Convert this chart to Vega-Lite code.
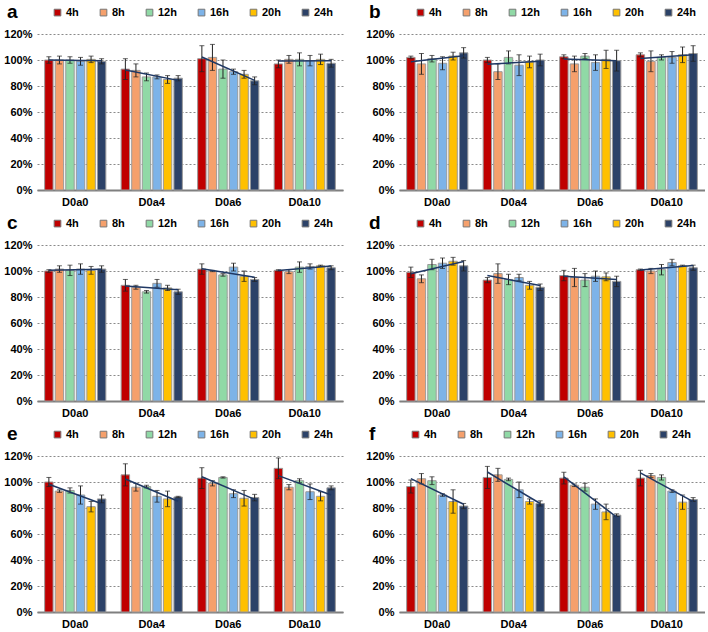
{
"$schema": "https://vega.github.io/schema/vega-lite/v6.json",
"padding": {"left": 3, "top": 7, "right": 0, "bottom": 0},
"data": {"values": [
{"p":"a","g":"D0a0","h":4,"v":100,"lo":97.5,"hi":102.5},{"p":"a","g":"D0a0","h":8,"v":100,"lo":97,"hi":103},{"p":"a","g":"D0a0","h":12,"v":100,"lo":97.5,"hi":102.5},{"p":"a","g":"D0a0","h":16,"v":99,"lo":96,"hi":102},{"p":"a","g":"D0a0","h":20,"v":100.5,"lo":98,"hi":103},{"p":"a","g":"D0a0","h":24,"v":99,"lo":97,"hi":101},
{"p":"a","g":"D0a4","h":4,"v":93,"lo":85,"hi":101},{"p":"a","g":"D0a4","h":8,"v":92,"lo":87,"hi":97},{"p":"a","g":"D0a4","h":12,"v":87,"lo":84,"hi":90},{"p":"a","g":"D0a4","h":16,"v":87,"lo":85.5,"hi":88.5},{"p":"a","g":"D0a4","h":20,"v":85,"lo":82,"hi":88},{"p":"a","g":"D0a4","h":24,"v":86,"lo":84,"hi":88},
{"p":"a","g":"D0a6","h":4,"v":101,"lo":91,"hi":111},{"p":"a","g":"D0a6","h":8,"v":102,"lo":92,"hi":112},{"p":"a","g":"D0a6","h":12,"v":93,"lo":86,"hi":100},{"p":"a","g":"D0a6","h":16,"v":91,"lo":89,"hi":93},{"p":"a","g":"D0a6","h":20,"v":89,"lo":86,"hi":92},{"p":"a","g":"D0a6","h":24,"v":84,"lo":81,"hi":87},
{"p":"a","g":"D0a10","h":4,"v":97,"lo":94,"hi":100},{"p":"a","g":"D0a10","h":8,"v":100.5,"lo":97.5,"hi":103.5},{"p":"a","g":"D0a10","h":12,"v":100.5,"lo":95.5,"hi":105.5},{"p":"a","g":"D0a10","h":16,"v":99.5,"lo":95.5,"hi":103.5},{"p":"a","g":"D0a10","h":20,"v":100.5,"lo":96.5,"hi":104.5},{"p":"a","g":"D0a10","h":24,"v":97.5,"lo":94.5,"hi":100.5},
{"p":"b","g":"D0a0","h":4,"v":102,"lo":101,"hi":103},{"p":"b","g":"D0a0","h":8,"v":97,"lo":89,"hi":105},{"p":"b","g":"D0a0","h":12,"v":101,"lo":98.5,"hi":103.5},{"p":"b","g":"D0a0","h":16,"v":97.5,"lo":92.5,"hi":102.5},{"p":"b","g":"D0a0","h":20,"v":103,"lo":100,"hi":106},{"p":"b","g":"D0a0","h":24,"v":105.5,"lo":101.5,"hi":109.5},
{"p":"b","g":"D0a4","h":4,"v":100,"lo":98,"hi":102},{"p":"b","g":"D0a4","h":8,"v":91,"lo":85,"hi":97},{"p":"b","g":"D0a4","h":12,"v":102,"lo":97,"hi":107},{"p":"b","g":"D0a4","h":16,"v":96,"lo":88,"hi":104},{"p":"b","g":"D0a4","h":20,"v":98.5,"lo":94,"hi":103},{"p":"b","g":"D0a4","h":24,"v":100,"lo":95.5,"hi":104.5},
{"p":"b","g":"D0a6","h":4,"v":102.5,"lo":101,"hi":104},{"p":"b","g":"D0a6","h":8,"v":97,"lo":91,"hi":103},{"p":"b","g":"D0a6","h":12,"v":103,"lo":101,"hi":105},{"p":"b","g":"D0a6","h":16,"v":98,"lo":92,"hi":104},{"p":"b","g":"D0a6","h":20,"v":100.5,"lo":93.5,"hi":107.5},{"p":"b","g":"D0a6","h":24,"v":99.5,"lo":91.5,"hi":107.5},
{"p":"b","g":"D0a10","h":4,"v":104,"lo":102.5,"hi":105.5},{"p":"b","g":"D0a10","h":8,"v":99,"lo":91,"hi":107},{"p":"b","g":"D0a10","h":12,"v":102,"lo":100,"hi":104},{"p":"b","g":"D0a10","h":16,"v":102,"lo":97.5,"hi":106.5},{"p":"b","g":"D0a10","h":20,"v":104,"lo":98,"hi":110},{"p":"b","g":"D0a10","h":24,"v":105,"lo":99,"hi":111},
{"p":"c","g":"D0a0","h":4,"v":100,"lo":99,"hi":101},{"p":"c","g":"D0a0","h":8,"v":101.5,"lo":99,"hi":104},{"p":"c","g":"D0a0","h":12,"v":100.5,"lo":96.5,"hi":104.5},{"p":"c","g":"D0a0","h":16,"v":101.5,"lo":97.5,"hi":105.5},{"p":"c","g":"D0a0","h":20,"v":100.5,"lo":97.5,"hi":103.5},{"p":"c","g":"D0a0","h":24,"v":101.5,"lo":99,"hi":104},
{"p":"c","g":"D0a4","h":4,"v":89,"lo":84.5,"hi":93.5},{"p":"c","g":"D0a4","h":8,"v":87.5,"lo":86,"hi":89},{"p":"c","g":"D0a4","h":12,"v":84,"lo":83,"hi":85},{"p":"c","g":"D0a4","h":16,"v":90.5,"lo":87.5,"hi":93.5},{"p":"c","g":"D0a4","h":20,"v":87,"lo":85,"hi":89},{"p":"c","g":"D0a4","h":24,"v":84,"lo":82,"hi":86},
{"p":"c","g":"D0a6","h":4,"v":101.5,"lo":97.5,"hi":105.5},{"p":"c","g":"D0a6","h":8,"v":100,"lo":99.5,"hi":100.5},{"p":"c","g":"D0a6","h":12,"v":97,"lo":96,"hi":98},{"p":"c","g":"D0a6","h":16,"v":103,"lo":100,"hi":106},{"p":"c","g":"D0a6","h":20,"v":96,"lo":92,"hi":100},{"p":"c","g":"D0a6","h":24,"v":93.5,"lo":92,"hi":95},
{"p":"c","g":"D0a10","h":4,"v":100.5,"lo":100,"hi":101},{"p":"c","g":"D0a10","h":8,"v":99.5,"lo":98,"hi":101},{"p":"c","g":"D0a10","h":12,"v":103,"lo":99,"hi":107},{"p":"c","g":"D0a10","h":16,"v":103.5,"lo":101.5,"hi":105.5},{"p":"c","g":"D0a10","h":20,"v":104,"lo":103.5,"hi":104.5},{"p":"c","g":"D0a10","h":24,"v":102.5,"lo":101,"hi":104},
{"p":"d","g":"D0a0","h":4,"v":99,"lo":95,"hi":103},{"p":"d","g":"D0a0","h":8,"v":94,"lo":91,"hi":97},{"p":"d","g":"D0a0","h":12,"v":105,"lo":101,"hi":109},{"p":"d","g":"D0a0","h":16,"v":106,"lo":102,"hi":110},{"p":"d","g":"D0a0","h":20,"v":107.5,"lo":104.5,"hi":110.5},{"p":"d","g":"D0a0","h":24,"v":104,"lo":100,"hi":108},
{"p":"d","g":"D0a4","h":4,"v":93,"lo":91,"hi":95},{"p":"d","g":"D0a4","h":8,"v":98,"lo":90.5,"hi":105.5},{"p":"d","g":"D0a4","h":12,"v":93.5,"lo":89.5,"hi":97.5},{"p":"d","g":"D0a4","h":16,"v":95,"lo":92.5,"hi":97.5},{"p":"d","g":"D0a4","h":20,"v":89,"lo":86,"hi":92},{"p":"d","g":"D0a4","h":24,"v":87.5,"lo":85,"hi":90},
{"p":"d","g":"D0a6","h":4,"v":96.5,"lo":92.5,"hi":100.5},{"p":"d","g":"D0a6","h":8,"v":95,"lo":88,"hi":102},{"p":"d","g":"D0a6","h":12,"v":93,"lo":88,"hi":98},{"p":"d","g":"D0a6","h":16,"v":96,"lo":92,"hi":100},{"p":"d","g":"D0a6","h":20,"v":95.5,"lo":92.5,"hi":98.5},{"p":"d","g":"D0a6","h":24,"v":92,"lo":88,"hi":96},
{"p":"d","g":"D0a10","h":4,"v":101,"lo":100.5,"hi":101.5},{"p":"d","g":"D0a10","h":8,"v":100,"lo":98,"hi":102},{"p":"d","g":"D0a10","h":12,"v":101,"lo":97,"hi":105},{"p":"d","g":"D0a10","h":16,"v":106.5,"lo":104,"hi":109},{"p":"d","g":"D0a10","h":20,"v":104,"lo":103.5,"hi":104.5},{"p":"d","g":"D0a10","h":24,"v":102.5,"lo":100.5,"hi":104.5},
{"p":"e","g":"D0a0","h":4,"v":100,"lo":96.5,"hi":103.5},{"p":"e","g":"D0a0","h":8,"v":93,"lo":92,"hi":94},{"p":"e","g":"D0a0","h":12,"v":93.5,"lo":91.5,"hi":95.5},{"p":"e","g":"D0a0","h":16,"v":90,"lo":83,"hi":97},{"p":"e","g":"D0a0","h":20,"v":81,"lo":77,"hi":85},{"p":"e","g":"D0a0","h":24,"v":87,"lo":84,"hi":90},
{"p":"e","g":"D0a4","h":4,"v":105.5,"lo":97,"hi":114},{"p":"e","g":"D0a4","h":8,"v":96,"lo":93,"hi":99},{"p":"e","g":"D0a4","h":12,"v":96.5,"lo":95.5,"hi":97.5},{"p":"e","g":"D0a4","h":16,"v":89,"lo":84.5,"hi":93.5},{"p":"e","g":"D0a4","h":20,"v":87,"lo":81,"hi":93},{"p":"e","g":"D0a4","h":24,"v":88.5,"lo":88,"hi":89},
{"p":"e","g":"D0a6","h":4,"v":103,"lo":95,"hi":111},{"p":"e","g":"D0a6","h":8,"v":99,"lo":97,"hi":101},{"p":"e","g":"D0a6","h":12,"v":103.5,"lo":103,"hi":104},{"p":"e","g":"D0a6","h":16,"v":91,"lo":88,"hi":94},{"p":"e","g":"D0a6","h":20,"v":87.5,"lo":81.5,"hi":93.5},{"p":"e","g":"D0a6","h":24,"v":88,"lo":85.5,"hi":90.5},
{"p":"e","g":"D0a10","h":4,"v":110.5,"lo":102.5,"hi":118.5},{"p":"e","g":"D0a10","h":8,"v":96,"lo":94,"hi":98},{"p":"e","g":"D0a10","h":12,"v":101,"lo":99.5,"hi":102.5},{"p":"e","g":"D0a10","h":16,"v":92.5,"lo":86.5,"hi":98.5},{"p":"e","g":"D0a10","h":20,"v":89,"lo":85.5,"hi":92.5},{"p":"e","g":"D0a10","h":24,"v":95.5,"lo":94,"hi":97},
{"p":"f","g":"D0a0","h":4,"v":96.5,"lo":91.5,"hi":101.5},{"p":"f","g":"D0a0","h":8,"v":102.5,"lo":98.5,"hi":106.5},{"p":"f","g":"D0a0","h":12,"v":101,"lo":98,"hi":104},{"p":"f","g":"D0a0","h":16,"v":90,"lo":89,"hi":91},{"p":"f","g":"D0a0","h":20,"v":85,"lo":76,"hi":94},{"p":"f","g":"D0a0","h":24,"v":81.5,"lo":79.5,"hi":83.5},
{"p":"f","g":"D0a4","h":4,"v":103.5,"lo":95,"hi":112},{"p":"f","g":"D0a4","h":8,"v":105.5,"lo":100.5,"hi":110.5},{"p":"f","g":"D0a4","h":12,"v":102,"lo":101,"hi":103},{"p":"f","g":"D0a4","h":16,"v":94,"lo":88,"hi":100},{"p":"f","g":"D0a4","h":20,"v":85,"lo":83,"hi":87},{"p":"f","g":"D0a4","h":24,"v":83.5,"lo":81.5,"hi":85.5},
{"p":"f","g":"D0a6","h":4,"v":103,"lo":98.5,"hi":107.5},{"p":"f","g":"D0a6","h":8,"v":97.5,"lo":96.5,"hi":98.5},{"p":"f","g":"D0a6","h":12,"v":96,"lo":93,"hi":99},{"p":"f","g":"D0a6","h":16,"v":83,"lo":79,"hi":87},{"p":"f","g":"D0a6","h":20,"v":77,"lo":71,"hi":83},{"p":"f","g":"D0a6","h":24,"v":74.5,"lo":73.5,"hi":75.5},
{"p":"f","g":"D0a10","h":4,"v":103,"lo":97,"hi":109},{"p":"f","g":"D0a10","h":8,"v":105,"lo":103.5,"hi":106.5},{"p":"f","g":"D0a10","h":12,"v":103.5,"lo":101.5,"hi":105.5},{"p":"f","g":"D0a10","h":16,"v":93,"lo":92,"hi":94},{"p":"f","g":"D0a10","h":20,"v":84.5,"lo":79,"hi":90},{"p":"f","g":"D0a10","h":24,"v":86.5,"lo":85,"hi":88}
]},
"spacing": 11,
"resolve": {"scale": {"fill": "independent"}, "legend": {"fill": "independent"}},
"vconcat": [
{"hconcat": [
{"width": 306, "height": 156, "transform": [{"filter": "datum.p == 'a'"}],
 "encoding": {"x": {"field": "g", "type": "nominal", "sort": ["D0a0","D0a4","D0a6","D0a10"], "scale": {"paddingInner": 0.2, "paddingOuter": 0.1}, "title": null},
  "xOffset": {"field": "h", "type": "nominal", "scale": {"domain": [4,8,12,16,20,24], "paddingInner": 0.2, "paddingOuter": 0}}},
 "layer": [
  {"mark": {"type": "bar", "stroke": "#9a9a9a", "strokeWidth": 1}, "encoding": {"y": {"field": "v", "type": "quantitative", "title": null, "scale": {"domain": [0,120]}, "axis": {"values": [0,20,40,60,80,100,120], "labelOverlap": false, "labelExpr": "datum.value + '%'"}}, "fill": {"field": "h", "type": "nominal", "scale": {"domain": [4,8,12,16,20,24], "range": ["#C00000","#F5A06C","#90D9A6","#7DB3E8","#FFC000","#2C4268"]}, "legend": {"orient": "none", "legendX": -30, "legendY": -27, "direction": "horizontal", "title": "a", "labelExpr": "datum.label + 'h'"}}}},
  {"mark": {"type": "rule", "color": "#222", "strokeWidth": 1}, "encoding": {"y": {"field": "lo", "type": "quantitative", "title": null, "axis": {"values": [0,20,40,60,80,100,120], "labelOverlap": false, "labelExpr": "datum.value + '%'"}}, "y2": {"field": "hi"}}},
  {"mark": {"type": "tick", "color": "#222", "size": 5, "thickness": 1}, "encoding": {"y": {"field": "lo", "type": "quantitative", "title": null, "axis": {"values": [0,20,40,60,80,100,120], "labelOverlap": false, "labelExpr": "datum.value + '%'"}}}},
  {"mark": {"type": "tick", "color": "#222", "size": 5, "thickness": 1}, "encoding": {"y": {"field": "hi", "type": "quantitative", "title": null, "axis": {"values": [0,20,40,60,80,100,120], "labelOverlap": false, "labelExpr": "datum.value + '%'"}}}},
  {"transform": [{"regression": "v", "on": "h", "groupby": ["g"]}], "mark": {"type": "line", "color": "#1F3864", "strokeWidth": 1.5}, "encoding": {"y": {"field": "v", "type": "quantitative", "title": null, "axis": {"values": [0,20,40,60,80,100,120], "labelOverlap": false, "labelExpr": "datum.value + '%'"}}, "detail": {"field": "g"}}}
 ]},
{"width": 306, "height": 156, "transform": [{"filter": "datum.p == 'b'"}],
 "encoding": {"x": {"field": "g", "type": "nominal", "sort": ["D0a0","D0a4","D0a6","D0a10"], "scale": {"paddingInner": 0.2, "paddingOuter": 0.1}, "title": null},
  "xOffset": {"field": "h", "type": "nominal", "scale": {"domain": [4,8,12,16,20,24], "paddingInner": 0.2, "paddingOuter": 0}}},
 "layer": [
  {"mark": {"type": "bar", "stroke": "#9a9a9a", "strokeWidth": 1}, "encoding": {"y": {"field": "v", "type": "quantitative", "title": null, "scale": {"domain": [0,120]}, "axis": {"values": [0,20,40,60,80,100,120], "labelOverlap": false, "labelExpr": "datum.value + '%'"}}, "fill": {"field": "h", "type": "nominal", "scale": {"domain": [4,8,12,16,20,24], "range": ["#C00000","#F5A06C","#90D9A6","#7DB3E8","#FFC000","#2C4268"]}, "legend": {"orient": "none", "legendX": -30, "legendY": -27, "direction": "horizontal", "title": "b", "labelExpr": "datum.label + 'h'"}}}},
  {"mark": {"type": "rule", "color": "#222", "strokeWidth": 1}, "encoding": {"y": {"field": "lo", "type": "quantitative", "title": null, "axis": {"values": [0,20,40,60,80,100,120], "labelOverlap": false, "labelExpr": "datum.value + '%'"}}, "y2": {"field": "hi"}}},
  {"mark": {"type": "tick", "color": "#222", "size": 5, "thickness": 1}, "encoding": {"y": {"field": "lo", "type": "quantitative", "title": null, "axis": {"values": [0,20,40,60,80,100,120], "labelOverlap": false, "labelExpr": "datum.value + '%'"}}}},
  {"mark": {"type": "tick", "color": "#222", "size": 5, "thickness": 1}, "encoding": {"y": {"field": "hi", "type": "quantitative", "title": null, "axis": {"values": [0,20,40,60,80,100,120], "labelOverlap": false, "labelExpr": "datum.value + '%'"}}}},
  {"transform": [{"regression": "v", "on": "h", "groupby": ["g"]}], "mark": {"type": "line", "color": "#1F3864", "strokeWidth": 1.5}, "encoding": {"y": {"field": "v", "type": "quantitative", "title": null, "axis": {"values": [0,20,40,60,80,100,120], "labelOverlap": false, "labelExpr": "datum.value + '%'"}}, "detail": {"field": "g"}}}
 ]}
], "spacing": 22, "resolve": {"scale": {"fill": "independent"}, "legend": {"fill": "independent"}}},
{"hconcat": [
{"width": 306, "height": 156, "transform": [{"filter": "datum.p == 'c'"}],
 "encoding": {"x": {"field": "g", "type": "nominal", "sort": ["D0a0","D0a4","D0a6","D0a10"], "scale": {"paddingInner": 0.2, "paddingOuter": 0.1}, "title": null},
  "xOffset": {"field": "h", "type": "nominal", "scale": {"domain": [4,8,12,16,20,24], "paddingInner": 0.2, "paddingOuter": 0}}},
 "layer": [
  {"mark": {"type": "bar", "stroke": "#9a9a9a", "strokeWidth": 1}, "encoding": {"y": {"field": "v", "type": "quantitative", "title": null, "scale": {"domain": [0,120]}, "axis": {"values": [0,20,40,60,80,100,120], "labelOverlap": false, "labelExpr": "datum.value + '%'"}}, "fill": {"field": "h", "type": "nominal", "scale": {"domain": [4,8,12,16,20,24], "range": ["#C00000","#F5A06C","#90D9A6","#7DB3E8","#FFC000","#2C4268"]}, "legend": {"orient": "none", "legendX": -30, "legendY": -27, "direction": "horizontal", "title": "c", "labelExpr": "datum.label + 'h'"}}}},
  {"mark": {"type": "rule", "color": "#222", "strokeWidth": 1}, "encoding": {"y": {"field": "lo", "type": "quantitative", "title": null, "axis": {"values": [0,20,40,60,80,100,120], "labelOverlap": false, "labelExpr": "datum.value + '%'"}}, "y2": {"field": "hi"}}},
  {"mark": {"type": "tick", "color": "#222", "size": 5, "thickness": 1}, "encoding": {"y": {"field": "lo", "type": "quantitative", "title": null, "axis": {"values": [0,20,40,60,80,100,120], "labelOverlap": false, "labelExpr": "datum.value + '%'"}}}},
  {"mark": {"type": "tick", "color": "#222", "size": 5, "thickness": 1}, "encoding": {"y": {"field": "hi", "type": "quantitative", "title": null, "axis": {"values": [0,20,40,60,80,100,120], "labelOverlap": false, "labelExpr": "datum.value + '%'"}}}},
  {"transform": [{"regression": "v", "on": "h", "groupby": ["g"]}], "mark": {"type": "line", "color": "#1F3864", "strokeWidth": 1.5}, "encoding": {"y": {"field": "v", "type": "quantitative", "title": null, "axis": {"values": [0,20,40,60,80,100,120], "labelOverlap": false, "labelExpr": "datum.value + '%'"}}, "detail": {"field": "g"}}}
 ]},
{"width": 306, "height": 156, "transform": [{"filter": "datum.p == 'd'"}],
 "encoding": {"x": {"field": "g", "type": "nominal", "sort": ["D0a0","D0a4","D0a6","D0a10"], "scale": {"paddingInner": 0.2, "paddingOuter": 0.1}, "title": null},
  "xOffset": {"field": "h", "type": "nominal", "scale": {"domain": [4,8,12,16,20,24], "paddingInner": 0.2, "paddingOuter": 0}}},
 "layer": [
  {"mark": {"type": "bar", "stroke": "#9a9a9a", "strokeWidth": 1}, "encoding": {"y": {"field": "v", "type": "quantitative", "title": null, "scale": {"domain": [0,120]}, "axis": {"values": [0,20,40,60,80,100,120], "labelOverlap": false, "labelExpr": "datum.value + '%'"}}, "fill": {"field": "h", "type": "nominal", "scale": {"domain": [4,8,12,16,20,24], "range": ["#C00000","#F5A06C","#90D9A6","#7DB3E8","#FFC000","#2C4268"]}, "legend": {"orient": "none", "legendX": -30, "legendY": -27, "direction": "horizontal", "title": "d", "labelExpr": "datum.label + 'h'"}}}},
  {"mark": {"type": "rule", "color": "#222", "strokeWidth": 1}, "encoding": {"y": {"field": "lo", "type": "quantitative", "title": null, "axis": {"values": [0,20,40,60,80,100,120], "labelOverlap": false, "labelExpr": "datum.value + '%'"}}, "y2": {"field": "hi"}}},
  {"mark": {"type": "tick", "color": "#222", "size": 5, "thickness": 1}, "encoding": {"y": {"field": "lo", "type": "quantitative", "title": null, "axis": {"values": [0,20,40,60,80,100,120], "labelOverlap": false, "labelExpr": "datum.value + '%'"}}}},
  {"mark": {"type": "tick", "color": "#222", "size": 5, "thickness": 1}, "encoding": {"y": {"field": "hi", "type": "quantitative", "title": null, "axis": {"values": [0,20,40,60,80,100,120], "labelOverlap": false, "labelExpr": "datum.value + '%'"}}}},
  {"transform": [{"regression": "v", "on": "h", "groupby": ["g"]}], "mark": {"type": "line", "color": "#1F3864", "strokeWidth": 1.5}, "encoding": {"y": {"field": "v", "type": "quantitative", "title": null, "axis": {"values": [0,20,40,60,80,100,120], "labelOverlap": false, "labelExpr": "datum.value + '%'"}}, "detail": {"field": "g"}}}
 ]}
], "spacing": 22, "resolve": {"scale": {"fill": "independent"}, "legend": {"fill": "independent"}}},
{"hconcat": [
{"width": 306, "height": 156, "transform": [{"filter": "datum.p == 'e'"}],
 "encoding": {"x": {"field": "g", "type": "nominal", "sort": ["D0a0","D0a4","D0a6","D0a10"], "scale": {"paddingInner": 0.2, "paddingOuter": 0.1}, "title": null},
  "xOffset": {"field": "h", "type": "nominal", "scale": {"domain": [4,8,12,16,20,24], "paddingInner": 0.2, "paddingOuter": 0}}},
 "layer": [
  {"mark": {"type": "bar", "stroke": "#9a9a9a", "strokeWidth": 1}, "encoding": {"y": {"field": "v", "type": "quantitative", "title": null, "scale": {"domain": [0,120]}, "axis": {"values": [0,20,40,60,80,100,120], "labelOverlap": false, "labelExpr": "datum.value + '%'"}}, "fill": {"field": "h", "type": "nominal", "scale": {"domain": [4,8,12,16,20,24], "range": ["#C00000","#F5A06C","#90D9A6","#7DB3E8","#FFC000","#2C4268"]}, "legend": {"orient": "none", "legendX": -30, "legendY": -27, "direction": "horizontal", "title": "e", "labelExpr": "datum.label + 'h'"}}}},
  {"mark": {"type": "rule", "color": "#222", "strokeWidth": 1}, "encoding": {"y": {"field": "lo", "type": "quantitative", "title": null, "axis": {"values": [0,20,40,60,80,100,120], "labelOverlap": false, "labelExpr": "datum.value + '%'"}}, "y2": {"field": "hi"}}},
  {"mark": {"type": "tick", "color": "#222", "size": 5, "thickness": 1}, "encoding": {"y": {"field": "lo", "type": "quantitative", "title": null, "axis": {"values": [0,20,40,60,80,100,120], "labelOverlap": false, "labelExpr": "datum.value + '%'"}}}},
  {"mark": {"type": "tick", "color": "#222", "size": 5, "thickness": 1}, "encoding": {"y": {"field": "hi", "type": "quantitative", "title": null, "axis": {"values": [0,20,40,60,80,100,120], "labelOverlap": false, "labelExpr": "datum.value + '%'"}}}},
  {"transform": [{"regression": "v", "on": "h", "groupby": ["g"]}], "mark": {"type": "line", "color": "#1F3864", "strokeWidth": 1.5}, "encoding": {"y": {"field": "v", "type": "quantitative", "title": null, "axis": {"values": [0,20,40,60,80,100,120], "labelOverlap": false, "labelExpr": "datum.value + '%'"}}, "detail": {"field": "g"}}}
 ]},
{"width": 306, "height": 156, "transform": [{"filter": "datum.p == 'f'"}],
 "encoding": {"x": {"field": "g", "type": "nominal", "sort": ["D0a0","D0a4","D0a6","D0a10"], "scale": {"paddingInner": 0.2, "paddingOuter": 0.1}, "title": null},
  "xOffset": {"field": "h", "type": "nominal", "scale": {"domain": [4,8,12,16,20,24], "paddingInner": 0.2, "paddingOuter": 0}}},
 "layer": [
  {"mark": {"type": "bar", "stroke": "#9a9a9a", "strokeWidth": 1}, "encoding": {"y": {"field": "v", "type": "quantitative", "title": null, "scale": {"domain": [0,120]}, "axis": {"values": [0,20,40,60,80,100,120], "labelOverlap": false, "labelExpr": "datum.value + '%'"}}, "fill": {"field": "h", "type": "nominal", "scale": {"domain": [4,8,12,16,20,24], "range": ["#C00000","#F5A06C","#90D9A6","#7DB3E8","#FFC000","#2C4268"]}, "legend": {"orient": "none", "legendX": -30, "legendY": -27, "direction": "horizontal", "title": "f", "labelExpr": "datum.label + 'h'"}}}},
  {"mark": {"type": "rule", "color": "#222", "strokeWidth": 1}, "encoding": {"y": {"field": "lo", "type": "quantitative", "title": null, "axis": {"values": [0,20,40,60,80,100,120], "labelOverlap": false, "labelExpr": "datum.value + '%'"}}, "y2": {"field": "hi"}}},
  {"mark": {"type": "tick", "color": "#222", "size": 5, "thickness": 1}, "encoding": {"y": {"field": "lo", "type": "quantitative", "title": null, "axis": {"values": [0,20,40,60,80,100,120], "labelOverlap": false, "labelExpr": "datum.value + '%'"}}}},
  {"mark": {"type": "tick", "color": "#222", "size": 5, "thickness": 1}, "encoding": {"y": {"field": "hi", "type": "quantitative", "title": null, "axis": {"values": [0,20,40,60,80,100,120], "labelOverlap": false, "labelExpr": "datum.value + '%'"}}}},
  {"transform": [{"regression": "v", "on": "h", "groupby": ["g"]}], "mark": {"type": "line", "color": "#1F3864", "strokeWidth": 1.5}, "encoding": {"y": {"field": "v", "type": "quantitative", "title": null, "axis": {"values": [0,20,40,60,80,100,120], "labelOverlap": false, "labelExpr": "datum.value + '%'"}}, "detail": {"field": "g"}}}
 ]}
], "spacing": 22, "resolve": {"scale": {"fill": "independent"}, "legend": {"fill": "independent"}}}
],
"config": {
 "font": "Liberation Sans",
 "view": {"stroke": null},
 "axis": {"labelFontSize": 11, "labelFontWeight": "bold", "labelColor": "#000", "ticks": false},
 "axisY": {"grid": true, "gridDash": [2, 2], "gridColor": "#8a8a8a", "domain": false, "labelPadding": 5, "labelOverlap": false},
 "axisX": {"grid": false, "domainColor": "#7f7f7f", "domainWidth": 2, "labelAngle": 0, "labelPadding": 6},
 "legend": {"symbolType": "square", "symbolSize": 45, "symbolStrokeColor": "#777", "symbolStrokeWidth": 1, "labelFontSize": 11, "labelFontWeight": "bold", "labelColor": "#000", "columnPadding": 19, "labelOffset": 3, "titleOrient": "left", "titleFontSize": 19, "titleFontWeight": "bold", "titleColor": "#000", "titlePadding": 34, "titleBaseline": "middle"}
}
}
